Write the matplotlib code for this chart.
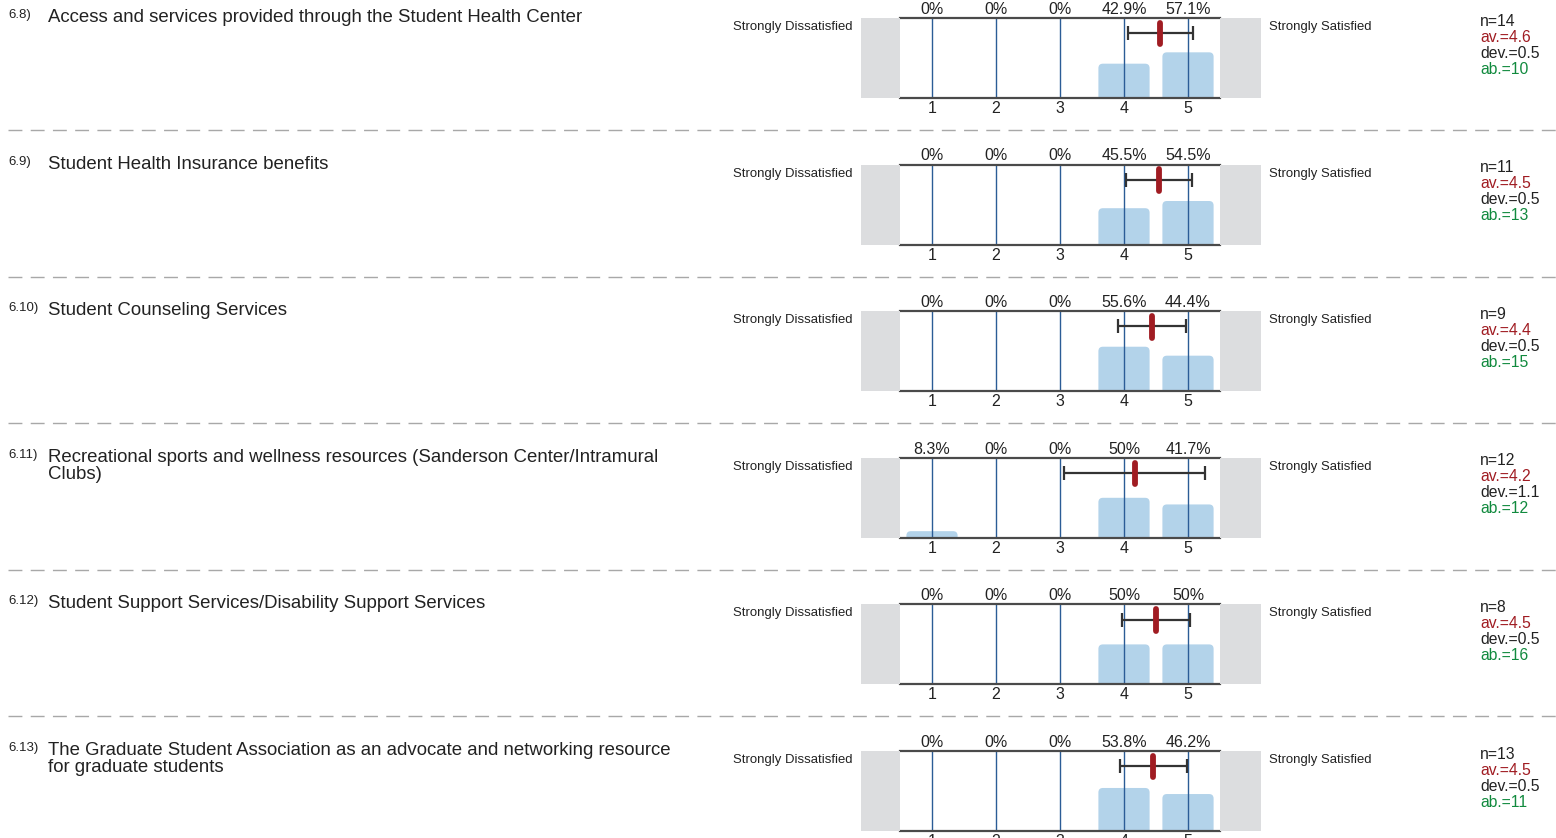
import matplotlib
matplotlib.use("Agg")
import matplotlib.pyplot as plt
from matplotlib.patches import Rectangle, FancyBboxPatch
from matplotlib.lines import Line2D

plt.rcParams['font.family'] = ['Liberation Sans', 'DejaVu Sans']

# ---------------- data ----------------
numbers = ["6.8)", "6.9)", "6.10)", "6.11)", "6.12)", "6.13)"]
questions = [
    "Access and services provided through the Student Health Center",
    "Student Health Insurance benefits",
    "Student Counseling Services",
    "Recreational sports and wellness resources (Sanderson Center/Intramural\nClubs)",
    "Student Support Services/Disability Support Services",
    "The Graduate Student Association as an advocate and networking resource\nfor graduate students",
]
scale_points = [1, 2, 3, 4, 5]
percents = [
    [0, 0, 0, 42.9, 57.1],
    [0, 0, 0, 45.5, 54.5],
    [0, 0, 0, 55.6, 44.4],
    [8.3, 0, 0, 50, 41.7],
    [0, 0, 0, 50, 50],
    [0, 0, 0, 53.8, 46.2],
]
n_values = [14, 11, 9, 12, 8, 13]
mean_values = [4.57, 4.55, 4.44, 4.17, 4.50, 4.46]
sd_values = [0.51, 0.52, 0.53, 1.10, 0.53, 0.52]
av_labels = [4.6, 4.5, 4.4, 4.2, 4.5, 4.5]
dev_labels = [0.5, 0.5, 0.5, 1.1, 0.5, 0.5]
ab_values = [10, 13, 15, 12, 16, 11]
left_label = "Strongly Dissatisfied"
right_label = "Strongly Satisfied"

# ---------------- layout ----------------
W, H = 1556, 838
fig = plt.figure(figsize=(W / 100, H / 100), dpi=100)

def fx(px):
    return px / W

def fy(py):
    return 1 - py / H

AX_L, AX_R = 900, 1220
AX_H = 80
ROW_STEP = 146.6
FIRST_TOP = 18

BAR_COLOR = "#b3d3ea"
GRID_COLOR = "#2b5c96"
SPINE_COLOR = "#4a4a4a"
GRAY_BOX = "#dcdddf"
RED = "#a01c22"
GREEN = "#118a3e"
TXT = "#222222"

for i in range(len(questions)):
    top = FIRST_TOP + i * ROW_STEP
    bottom = top + AX_H
    ax = fig.add_axes([fx(AX_L), fy(bottom), fx(AX_R - AX_L), AX_H / H])
    ax.set_xlim(0.5, 5.5)
    ax.set_ylim(0, 100)
    ax.set_facecolor("white")
    for s in ("left", "right"):
        ax.spines[s].set_visible(False)
    for s in ("top", "bottom"):
        ax.spines[s].set_color(SPINE_COLOR)
        ax.spines[s].set_linewidth(1.6)
    ax.set_yticks([])
    ax.set_xticks([])

    # bars with rounded top corners
    for x, p in zip(scale_points, percents[i]):
        if p <= 0:
            continue
        patch = FancyBboxPatch((x - 0.4, -10), 0.8, p + 10,
                               boxstyle="round,pad=0,rounding_size=0.07",
                               mutation_aspect=80,
                               facecolor=BAR_COLOR, edgecolor="none", zorder=1)
        ax.add_patch(patch)

    # vertical grid lines
    for x in scale_points:
        ax.axvline(x, color=GRID_COLOR, lw=1.0, zorder=2)

    # error bar + mean
    ax.errorbar([mean_values[i]], [81], xerr=[[sd_values[i]], [sd_values[i]]],
                fmt="none", ecolor="#333333", elinewidth=1.6, capsize=5,
                capthick=1.6, zorder=4)
    ax.plot([mean_values[i], mean_values[i]], [67, 94], color=RED, lw=4.2,
            solid_capstyle="round", zorder=5)

    # percent labels above, tick labels below
    for x, p in zip(scale_points, percents[i]):
        ax.text(x, 100 + 11, f"{p:g}%", ha="center", va="center",
                fontsize=11.5, color=TXT, clip_on=False)
        ax.text(x, -13, f"{x}", ha="center", va="center",
                fontsize=11.5, color=TXT, clip_on=False)

    # gray end boxes
    fig.add_artist(Rectangle((fx(861), fy(bottom)), fx(AX_L - 861), AX_H / H,
                             transform=fig.transFigure, facecolor=GRAY_BOX,
                             edgecolor="none"))
    fig.add_artist(Rectangle((fx(AX_R), fy(bottom)), fx(1261 - AX_R), AX_H / H,
                             transform=fig.transFigure, facecolor=GRAY_BOX,
                             edgecolor="none"))

    # scale end labels
    fig.text(fx(853), fy(top + 9), left_label, ha="right", va="center",
             fontsize=9.45, color=TXT)
    fig.text(fx(1269), fy(top + 9), right_label, ha="left", va="center",
             fontsize=9.45, color=TXT)

    # question number + text
    fig.text(fx(8), fy(top - 3), numbers[i], ha="left", va="center",
             fontsize=9.5, color=TXT)
    fig.text(fx(48), fy(top - 9), questions[i], ha="left", va="top",
             fontsize=13.45, color=TXT, linespacing=1.03)

    # stats
    stats = [(f"n={n_values[i]}", TXT), (f"av.={av_labels[i]}", RED),
             (f"dev.={dev_labels[i]}", TXT), (f"ab.={ab_values[i]}", GREEN)]
    for k, (s, c) in enumerate(stats):
        fig.text(fx(1480), fy(top + 3 + 16 * k), s, ha="left", va="center",
                 fontsize=11.3, color=c)

    # dashed separator
    if i < len(questions) - 1:
        sep_y = top + 112
        fig.add_artist(Line2D([fx(8), fx(1556)], [fy(sep_y), fy(sep_y)],
                              transform=fig.transFigure, color="#a8a8a8",
                              lw=1.0, linestyle=(0, (10, 6))))

fig.savefig("out.png", dpi=100, facecolor="white")
